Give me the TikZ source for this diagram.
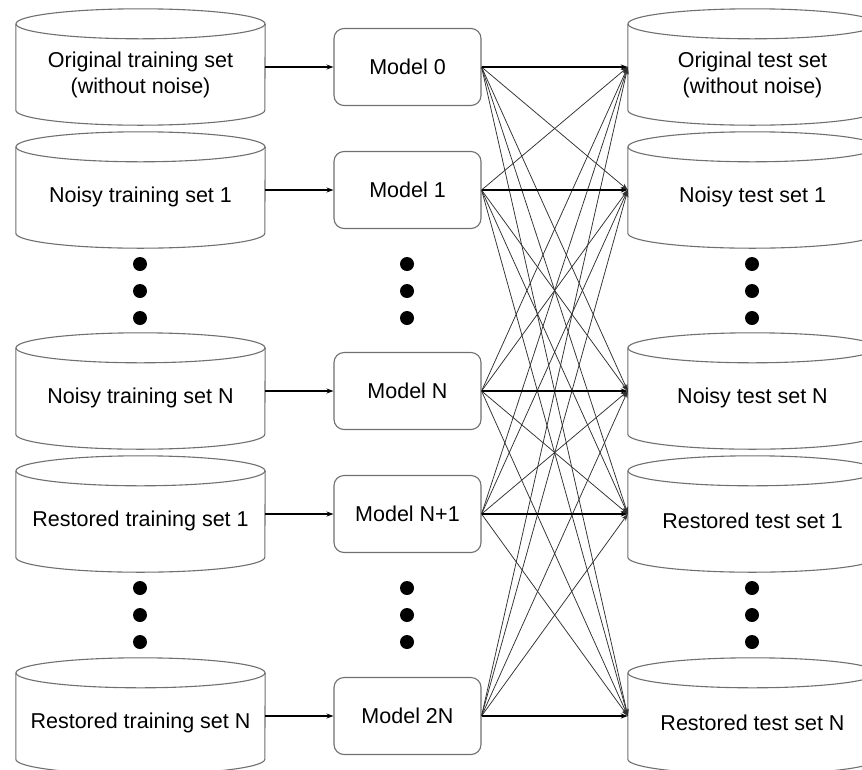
\documentclass[tikz,border=0pt]{standalone}
\usepackage{fontspec}
\setmainfont{Liberation Sans}
\usetikzlibrary{arrows.meta,calc}
\definecolor{outline}{HTML}{707070}
\definecolor{fanline}{HTML}{303030}
\begin{document}
\begin{tikzpicture}[x=1pt,y=-1pt,
  cylbox/.style={minimum width=249pt,minimum height=116pt,inner sep=0pt,draw=none},
  cylline/.style={draw=outline,line width=1.1pt},
  lbl/.style={font=\fontsize{21.5pt}{26pt}\selectfont,align=center,inner sep=0pt},
  model/.style={draw=outline,line width=1.1pt,rounded corners=10pt,minimum width=147pt,minimum height=77pt,inner sep=0pt,font=\fontsize{21.5pt}{26pt}\selectfont},
  tip/.style={-{Stealth[length=7pt,width=5pt]}},
  feed/.style={tip,line width=1.2pt,black},
  fan/.style={tip,line width=0.75pt,fanline},
  straight/.style={tip,line width=1.4pt,black},
  dot/.style={fill=black}]
\useasboundingbox (0,0) rectangle (862,769);
\fill[white] (0,0) rectangle (862,769);

% left cylinders
\node[cylbox] (L0) at (140.5,67) {};
\node[cylbox] (L1) at (140.5,190) {};
\node[cylbox] (L2) at (140.5,391) {};
\node[cylbox] (L3) at (140.5,514) {};
\node[cylbox] (L4) at (140.5,716) {};
% right cylinders
\node[cylbox] (R0) at (752.5,67) {};
\node[cylbox] (R1) at (752.5,190) {};
\node[cylbox] (R2) at (752.5,391) {};
\node[cylbox] (R3) at (752.5,514) {};
\node[cylbox] (R4) at (752.5,716) {};

\foreach \n in {L0,L1,L2,L3,L4,R0,R1,R2,R3,R4}{
  \draw[cylline] ($(\n.north)+(0pt,-15pt)$) ellipse[x radius=124.5pt,y radius=15pt];
  \draw[cylline] ($(\n.north west)+(0pt,-15pt)$) -- ($(\n.south west)+(0pt,15pt)$)
     arc[start angle=180,end angle=360,x radius=124.5pt,y radius=15pt]
     -- ($(\n.north east)+(0pt,-15pt)$);
}

% labels
\node[lbl] (L0t) at ($(L0.center)+(0pt,-8pt)$) {Original training set\\(without noise)};
\node[lbl] (L1t) at ($(L1.center)+(0pt,-7pt)$) {Noisy training set 1};
\node[lbl] (L2t) at ($(L2.center)+(0pt,-7pt)$) {Noisy training set N};
\node[lbl] (L3t) at ($(L3.center)+(0pt,-7pt)$) {Restored training set 1};
\node[lbl] (L4t) at ($(L4.center)+(0pt,-7pt)$) {Restored training set N};
\node[lbl] (R0t) at ($(R0.center)+(0pt,-8pt)$) {Original test set\\(without noise)};
\node[lbl] (R1t) at ($(R1.center)+(0pt,-7pt)$) {Noisy test set 1};
\node[lbl] (R2t) at ($(R2.center)+(0pt,-7pt)$) {Noisy test set N};
\node[lbl] (R3t) at ($(R3.center)+(0pt,-7pt)$) {Restored test set 1};
\node[lbl] (R4t) at ($(R4.center)+(0pt,-7pt)$) {Restored test set N};

% models
\node[model] (M0) at (407.5,67) {Model 0};
\node[model] (M1) at (407.5,190) {Model 1};
\node[model] (M2) at (407.5,391) {Model N};
\node[model] (M3) at (407.5,514) {Model N+1};
\node[model] (M4) at (407.5,716) {Model 2N};

% training -> model
\foreach \i in {0,...,4}{
  \draw[feed] (L\i.east) -- (M\i.west);
}
% model -> test (all pairs)
\foreach \i in {0,...,4}{
  \foreach \j in {0,...,4}{
    \ifnum\i=\j\else
      \draw[fan] (M\i.east) -- (R\j.west);
    \fi
  }
}
\foreach \i in {0,...,4}{
  \draw[straight] (M\i.east) -- (R\i.west);
}

% ellipsis dots
\foreach \x in {140,407,752}{
  \foreach \y in {264,291,318,588,615,642}{
    \fill[dot] (\x,\y) circle[radius=7pt];
  }
}
\end{tikzpicture}
\end{document}
